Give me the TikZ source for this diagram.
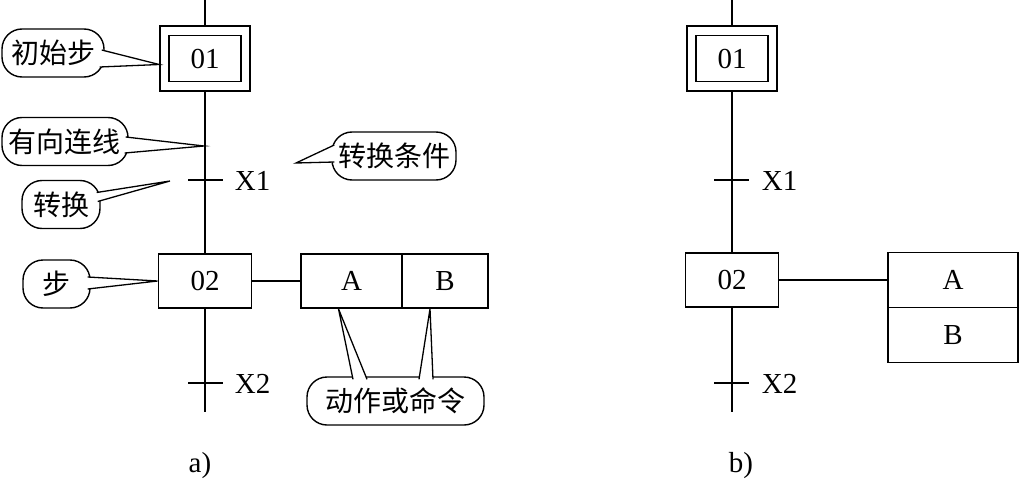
\documentclass[tikz,border=0pt]{standalone}
\usepackage{fontspec}
\setmainfont{Liberation Serif}
\newfontfamily\cjk{Noto Sans CJK SC}
\usetikzlibrary{calc}

\begin{document}
\begin{tikzpicture}[x=1pt, y=-1pt, line width=1.8pt,
  font=\fontsize{29}{34}\selectfont,
  stepbox/.style={draw, minimum width=93pt, minimum height=54pt, inner sep=0pt},
  bubble/.style={draw, fill=white, line width=1.4pt, rounded corners=20pt,
    minimum height=48pt, inner sep=0pt, font=\cjk\fontsize{28}{30}\selectfont},
  ptr/.style={line width=1.3pt, line join=miter}]
\useasboundingbox (0,0) rectangle (1019,484);

% callouts of a)
\node[bubble, minimum width=102pt] (initc) at (53,53) {初始步};
\node[bubble, minimum width=126pt] (linkc) at (65,141.5) {有向连线};
\node[bubble, minimum width=78pt] (transc) at (61,204.5) {转换};
\node[bubble, minimum width=124pt] (condc) at (394,156) {转换条件};
\node[bubble, minimum width=67pt] (stepc) at (56.5,284) {步};
\node[bubble, minimum width=177pt] (actc) at (395.5,401) {动作或命令};

% diagram a)
\coordinate (topa) at (205,0);
\coordinate (bota) at (205,412);
\node[stepbox, minimum width=90pt, minimum height=65pt] (inita) at (205,58.5) {};
\node[draw, minimum width=72pt, minimum height=46pt, inner sep=0pt] (s01a) at (inita) {01};
\node[stepbox] (s02a) at (205,281) {02};
\node[stepbox, minimum width=101pt] (acta) at (351.5,281) {A};
\node[stepbox, minimum width=86pt] (actb) at (445,281) {B};
\coordinate (x1a) at (205,180);
\coordinate (x2a) at (205,383);
\node[anchor=west, inner sep=0pt] (lx1a) at (234,181) {X1};
\node[anchor=west, inner sep=0pt] (lx2a) at (234,384) {X2};

\coordinate (link) at (204,146);
\coordinate (trans) at (170,181);
\coordinate (cond) at (296,163);

% pointers
\fill[white] ($(initc.east)+(-3,-3)$) -- ($(inita.west)+(0,6)$) -- ($(initc.east)+(-5,14)$) -- cycle;
\draw[ptr] ($(initc.east)+(-3,-3)$) -- ($(inita.west)+(0,6)$) -- ($(initc.east)+(-5,14)$);
\fill[white] ($(linkc.east)+(-3,-4.5)$) -- (link) -- ($(linkc.east)+(-4,11.5)$) -- cycle;
\draw[ptr] ($(linkc.east)+(-3,-4.5)$) -- (link) -- ($(linkc.east)+(-4,11.5)$);
\fill[white] ($(transc.east)+(-4,-12)$) -- (trans) -- ($(transc.east)+(-3,-3)$) -- cycle;
\draw[ptr] ($(transc.east)+(-4,-12)$) -- (trans) -- ($(transc.east)+(-3,-3)$);
\fill[white] ($(condc.west)+(3,-11)$) -- (cond) -- ($(condc.west)+(3,6)$) -- cycle;
\draw[ptr] ($(condc.west)+(3,-11)$) -- (cond) -- ($(condc.west)+(3,6)$);
\fill[white] ($(stepc.east)+(-3,-7)$) -- (s02a.west) -- ($(stepc.east)+(-3,5)$) -- cycle;
\draw[ptr] ($(stepc.east)+(-3,-7)$) -- (s02a.west) -- ($(stepc.east)+(-3,5)$);
\fill[white] ($(actc.north)+(-42.5,3)$) -- ($(acta.south)+(-13,0)$) -- ($(actc.north)+(-28.5,3)$) -- cycle;
\draw[ptr] ($(actc.north)+(-42.5,3)$) -- ($(acta.south)+(-13,0)$) -- ($(actc.north)+(-28.5,3)$);
\fill[white] ($(actc.north)+(23.5,3)$) -- ($(actb.south)+(-15,0)$) -- ($(actc.north)+(37.5,3)$) -- cycle;
\draw[ptr] ($(actc.north)+(23.5,3)$) -- ($(actb.south)+(-15,0)$) -- ($(actc.north)+(37.5,3)$);

\draw (topa) -- (inita.north);
\draw (inita.south) -- (s02a.north);
\draw (s02a.south) -- (bota);
\draw (s02a.east) -- (acta.west);
\draw ($(x1a)+(-17,0)$) -- ($(x1a)+(18,0)$);
\draw ($(x2a)+(-17,0)$) -- ($(x2a)+(18,0)$);

% diagram b)
\coordinate (topb) at (732,0);
\coordinate (botb) at (732,412);
\node[stepbox, minimum width=90pt, minimum height=65pt] (initb) at (732,58.5) {};
\node[draw, minimum width=72pt, minimum height=46pt, inner sep=0pt] (s01b) at (initb) {01};
\node[stepbox] (s02b) at (732,280) {02};
\node[stepbox, minimum width=130pt, minimum height=55pt] (actab) at (953,280) {A};
\node[stepbox, minimum width=130pt, minimum height=55pt] (actbb) at (953,335) {B};
\coordinate (x1b) at (732,180);
\coordinate (x2b) at (732,383);
\node[anchor=west, inner sep=0pt] (lx1b) at (761,181) {X1};
\node[anchor=west, inner sep=0pt] (lx2b) at (761,384) {X2};

\draw (topb) -- (initb.north);
\draw (initb.south) -- (s02b.north);
\draw (s02b.south) -- (botb);
\draw (s02b.east) -- (actab.west);
\draw ($(x1b)+(-18,0)$) -- ($(x1b)+(17,0)$);
\draw ($(x2b)+(-18,0)$) -- ($(x2b)+(17,0)$);

\node (capa) at (200,466) {a)};
\node (capb) at (741,466) {b)};
\end{tikzpicture}
\end{document}
